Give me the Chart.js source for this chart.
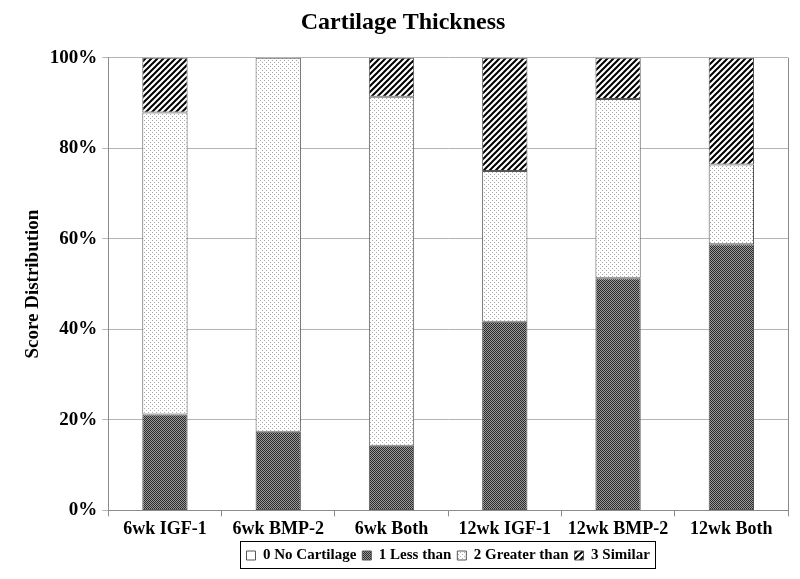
<!DOCTYPE html>
<html>
<head>
<meta charset="utf-8">
<script src="https://cdn.jsdelivr.net/npm/chart.js@4"></script>
<style>
  html, body { margin: 0; padding: 0; background: #fff; }
  #wrap { width: 800px; height: 579px; }
</style>
</head>
<body>
<div id="wrap"><canvas id="chart"></canvas></div>
<script>
const categories = ['6wk IGF-1', '6wk BMP-2', '6wk Both', '12wk IGF-1', '12wk BMP-2', '12wk Both'];
const seriesNames = ['0 No Cartilage', '1 Less than', '2 Greater than', '3 Similar'];
const noCartilage = [0, 0, 0, 0, 0, 0];
const lessThan = [21.2, 17.4, 14.3, 41.7, 51.3, 58.8];
const greaterThan = [66.7, 82.6, 77.1, 33.3, 39.6, 17.6];
const similar = [12.1, 0, 8.6, 25.0, 9.1, 23.6];
const yTicks = [0, 20, 40, 60, 80, 100];

const FONT = 'Liberation Serif, Times New Roman, serif';

// little tiles for the fill patterns
function makePattern(size, paint) {
  const c = document.createElement('canvas');
  c.width = size; c.height = size;
  const g = c.getContext('2d');
  paint(g, size);
  return g.createPattern(c, 'repeat');
}

const whiteFill = '#ffffff';
const darkChecker = makePattern(2, (g) => {
  g.fillStyle = '#9a9a9a'; g.fillRect(0, 0, 2, 2);
  g.fillStyle = '#2a2a2a'; g.fillRect(0, 0, 1, 1); g.fillRect(1, 1, 1, 1);
});
const lightDots = makePattern(4, (g) => {
  g.fillStyle = '#ffffff'; g.fillRect(0, 0, 4, 4);
  g.fillStyle = '#a8a8a8'; g.fillRect(0, 0, 1, 1); g.fillRect(2, 2, 1, 1);
});
const hatch = makePattern(6, (g, s) => {
  g.fillStyle = '#ffffff'; g.fillRect(0, 0, s, s);
  g.strokeStyle = '#000'; g.lineWidth = 2;
  g.beginPath();
  g.moveTo(-1, s + 1); g.lineTo(s + 1, -1);
  g.moveTo(-1, 1); g.lineTo(1, -1);
  g.moveTo(s - 1, s + 1); g.lineTo(s + 1, s - 1);
  g.stroke();
});

// frame round the plot and round the legend
const framePlugin = {
  id: 'frame',
  afterDraw(chart) {
    const ctx = chart.ctx;
    const a = chart.chartArea;
    ctx.save();
    ctx.strokeStyle = '#8c8c8c';
    ctx.lineWidth = 1;
    ctx.beginPath();
    ctx.moveTo(Math.round(a.right) + 0.5, a.top);
    ctx.lineTo(Math.round(a.right) + 0.5, a.bottom);
    ctx.stroke();
    const boxes = chart.legend.legendHitBoxes;
    if (boxes && boxes.length) {
      let l = Infinity, r = -Infinity, t = Infinity, b = -Infinity;
      boxes.forEach(h => {
        l = Math.min(l, h.left); r = Math.max(r, h.left + h.width);
        t = Math.min(t, h.top); b = Math.max(b, h.top + h.height);
      });
      ctx.strokeStyle = '#000';
      ctx.strokeRect(Math.round(l - 7) + 0.5, Math.round(t - 7) + 0.5, Math.round(r - l + 12), Math.round(b - t + 12));
    }
    ctx.restore();
  }
};

function ds(label, data, fill) {
  return {
    label: label,
    data: data,
    backgroundColor: fill,
    borderColor: '#555',
    borderWidth: 1,
    borderSkipped: false,
    barPercentage: 0.4,
    categoryPercentage: 1.0
  };
}

new Chart(document.getElementById('chart'), {
  type: 'bar',
  data: {
    labels: categories,
    datasets: [
      ds(seriesNames[0], noCartilage, whiteFill),
      ds(seriesNames[1], lessThan, darkChecker),
      ds(seriesNames[2], greaterThan, lightDots),
      ds(seriesNames[3], similar, hatch)
    ]
  },
  options: {
    responsive: true,
    maintainAspectRatio: false,
    animation: false,
    layout: { padding: { left: 18, right: 12, top: 2, bottom: 6 } },
    plugins: {
      title: {
        display: true,
        text: 'Cartilage Thickness',
        color: '#000',
        font: { family: FONT, size: 24, weight: 'bold' },
        padding: { top: 6, bottom: 21 }
      },
      legend: {
        position: 'bottom',
        fullSize: false,
        labels: {
          color: '#000',
          font: { family: FONT, size: 15, weight: 'bold' },
          boxWidth: 9,
          boxHeight: 9,
          padding: 6
        }
      },
      tooltip: { enabled: false }
    },
    scales: {
      x: {
        stacked: true,
        grid: { offset: true, drawOnChartArea: false, color: '#8c8c8c', tickLength: 6 },
        border: { color: '#8c8c8c' },
        ticks: {
          color: '#000',
          font: { family: FONT, size: 18, weight: 'bold' },
          padding: 2,
          maxRotation: 0
        }
      },
      y: {
        stacked: true,
        min: 0,
        max: 100,
        afterBuildTicks(scale) { scale.ticks = yTicks.map(v => ({ value: v })); },
        grid: { color: '#b4b4b4', tickLength: 6 },
        border: { color: '#8c8c8c' },
        ticks: {
          color: '#000',
          font: { family: FONT, size: 19, weight: 'bold' },
          padding: 5,
          callback: v => v + '%'
        },
        title: {
          display: true,
          text: 'Score Distribution',
          color: '#000',
          font: { family: FONT, size: 19, weight: 'bold' },
          padding: { bottom: 0 }
        }
      }
    }
  },
  plugins: [framePlugin]
});
</script>
</body>
</html>
